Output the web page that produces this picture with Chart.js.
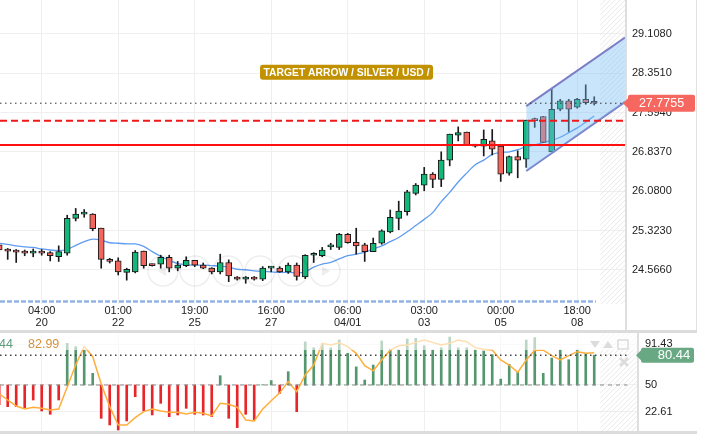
<!DOCTYPE html>
<html>
<head>
<meta charset="utf-8">
<script src="https://cdn.jsdelivr.net/npm/chart.js@4.4.1/dist/chart.umd.min.js"></script>
<style>
  html, body { margin: 0; padding: 0; background: #fff; }
  body { width: 716px; height: 437px; position: relative; overflow: hidden; }
  canvas { position: absolute; left: 0; }
  #main { top: 0; }
  #osc { top: 333px; }
  .band { position: absolute; left: 0; width: 697px; height: 3px; background: #dcdcdc; }
  .vline { position: absolute; left: 696px; top: 0; width: 1px; height: 330px; background: #e2e2e2; }
</style>
</head>
<body>
<canvas id="main" width="716" height="330"></canvas>
<div class="band" style="top:330px"></div>
<canvas id="osc" width="716" height="98"></canvas>
<div class="band" style="top:431px"></div>
<div class="vline"></div>
<script>
// axis labels
const timeLabels = ['04:00', '01:00', '19:00', '16:00', '06:00', '03:00', '00:00', '18:00'];
const dateLabels = ['20', '22', '25', '27', '04/01', '03', '05', '08'];
const timeTickIdx = [5, 14, 23, 32, 41, 50, 59, 68];
const priceTicks = [24.566, 25.323, 26.080, 26.837, 27.594, 28.351, 29.108];
const oscTicks = [22.61, 50, 91.43];

// candles (silver / usd)
const opens = [25.05, 24.94, 24.92, 24.91, 24.89, 24.93, 24.90, 24.82, 24.89, 25.56,
  25.64, 25.64, 25.37, 24.77, 24.74, 24.52, 24.53, 24.93, 24.66, 24.68,
  24.81, 24.60, 24.65, 24.75, 24.66, 24.60, 24.53, 24.71, 24.43, 24.39,
  24.43, 24.39, 24.60, 24.60, 24.53, 24.66, 24.43, 24.85, 24.84, 25.01,
  25.00, 25.25, 25.10, 25.05, 24.92, 25.08, 25.30, 25.56, 25.69, 26.04,
  26.20, 26.41, 26.31, 26.68, 27.16, 27.22, 26.96, 26.95, 27.05, 26.95,
  26.43, 26.75, 26.70, 27.46, 27.52, 26.84, 27.66, 27.82, 27.70, 27.85, 27.78];
const highs = [25.09, 24.98, 24.96, 24.95, 24.97, 24.96, 24.92, 25.03, 25.62, 25.75,
  25.73, 25.65, 25.37, 24.79, 24.80, 24.60, 24.94, 24.93, 24.68, 24.85,
  24.85, 24.73, 24.82, 24.75, 24.70, 24.61, 24.87, 24.76, 24.44, 24.44,
  24.44, 24.63, 24.63, 24.63, 24.70, 24.70, 24.86, 24.90, 25.00, 25.08,
  25.27, 25.27, 25.37, 25.08, 25.18, 25.34, 25.72, 25.89, 26.10, 26.23,
  26.54, 26.44, 26.84, 27.18, 27.32, 27.22, 26.97, 27.26, 27.27, 26.95,
  26.76, 26.86, 27.45, 27.49, 27.52, 28.05, 27.85, 27.85, 27.87, 28.13, 27.90];
const lows = [24.91, 24.77, 24.71, 24.84, 24.82, 24.85, 24.74, 24.73, 24.85, 25.51,
  25.58, 25.32, 24.60, 24.70, 24.47, 24.37, 24.51, 24.60, 24.64, 24.60,
  24.53, 24.55, 24.63, 24.63, 24.59, 24.49, 24.49, 24.34, 24.37, 24.31,
  24.37, 24.36, 24.53, 24.52, 24.50, 24.37, 24.40, 24.71, 24.82, 24.96,
  24.96, 25.08, 24.87, 24.73, 24.92, 25.06, 25.28, 25.34, 25.62, 26.01,
  26.09, 26.15, 26.17, 26.57, 27.05, 26.96, 26.93, 26.76, 26.78, 26.27,
  26.39, 26.34, 26.54, 27.31, 27.02, 26.84, 27.63, 27.23, 27.68, 27.755, 27.74];
const closes = [24.95, 24.93, 24.91, 24.89, 24.93, 24.89, 24.84, 24.92, 25.56, 25.64,
  25.65, 25.36, 24.77, 24.73, 24.53, 24.58, 24.91, 24.65, 24.65, 24.81,
  24.60, 24.66, 24.75, 24.66, 24.60, 24.53, 24.71, 24.45, 24.39, 24.43,
  24.39, 24.60, 24.61, 24.53, 24.66, 24.44, 24.85, 24.86, 24.95, 25.02,
  25.25, 25.09, 25.03, 24.92, 25.08, 25.32, 25.58, 25.70, 26.07, 26.20,
  26.41, 26.31, 26.68, 27.18, 27.21, 26.96, 26.95, 27.08, 26.89, 26.41,
  26.75, 26.68, 27.45, 27.44, 27.02, 27.66, 27.82, 27.66, 27.85, 27.785, 27.7755];
const maLine = [25.08, 25.06, 25.03, 25.01, 25.00, 24.97, 24.95, 24.94, 24.96, 25.04,
  25.11, 25.16, 25.14, 25.09, 25.08, 25.07, 25.07, 25.02, 24.92, 24.83,
  24.75, 24.69, 24.67, 24.66, 24.66, 24.65, 24.64, 24.62, 24.58, 24.57,
  24.55, 24.54, 24.53, 24.52, 24.52, 24.51, 24.53, 24.62, 24.68, 24.71,
  24.78, 24.84, 24.87, 24.91, 24.97, 25.03, 25.11, 25.19, 25.30, 25.42,
  25.54, 25.67, 25.88, 26.06, 26.26, 26.43, 26.59, 26.68, 26.79, 26.83,
  26.84, 26.88, 26.94, 26.97, 27.02, 27.06, 27.12, 27.21, 27.30, 27.41, 27.53];

// oscillator panel
const oscBars = [30, 27.9, 27.9, 26.9, 34.7, 23.5, 20.1, 34.7, 92.5, 89.1,
  85.7, 61.9, 16.0, 9.2, 4.1, 13.3, 38.1, 23.5, 19.4, 31.3,
  17.7, 19.4, 26.2, 20.1, 19.4, 17.7, 59.5, 16.0, 6.5, 20.1,
  14.3, 50.3, 54.5, 41.5, 63.6, 22.8, 94, 88, 92, 88,
  96, 82.3, 68.5, 55.1, 70.4, 95, 86.5, 85.7, 97, 97.6,
  90, 85.7, 88, 99, 88, 88, 85.7, 84.7, 81, 56,
  71.1, 62.9, 95.9, 98.3, 61.9, 77.5, 85.7, 75.8, 85.7, 82.3, 80.44];
const oscLine = [41, 34.7, 28.6, 25.5, 27.2, 26.2, 24.5, 25.5, 48, 70.4,
  89.5, 78.9, 51, 27.9, 9.2, 9.2, 16.7, 22.8, 25.5, 23.5,
  22.1, 22.1, 20.4, 22.1, 21.1, 18.4, 31.3, 30.3, 27.2, 14.3,
  13.3, 25.5, 34, 42, 53.4, 43.2, 60.2, 70.4, 92.5, 90.8,
  93, 89.1, 82.3, 69.7, 64.5, 75.5, 85.7, 90, 90.8, 93.5,
  95.9, 93.5, 90.8, 92.5, 95.9, 94.2, 88.1, 86.5, 85.7, 75.5,
  70.4, 62.9, 75.5, 85.5, 85.5, 79.9, 75.5, 79.9, 84, 82.3, 82.99];

// drawn levels
const lastPrice = 27.7755;
const lastOsc = 80.44;
const redSolid = 26.97;
const redDashed = 27.44;
const blueDashed = 23.96;
const channelStart = 62;
const channelTop = [27.72, 29.04];
const channelBottom = [26.47, 27.80];
const targetNote = { text: 'TARGET ARROW / SILVER / USD /', x: 40.86, y: 28.37 };

const xMin = 0.094, xMainMax = 73.62, xOscMax = 75.03, xLinesEnd = 70.2;
const idx = opens.map((_, i) => i);

Chart.defaults.font.family = '"Liberation Sans", Arial, sans-serif';
Chart.defaults.color = '#222';

// drop the label half-height padding chart.js puts round each axis
function noPad(s) {
  s.paddingTop = 0;
  s.paddingBottom = 0;
  s.paddingLeft = 0;
  s.paddingRight = 0;
}

function hatch(ctx, x0, x1, y0, y1) {
  ctx.save();
  ctx.beginPath();
  ctx.rect(x0, y0, x1 - x0, y1 - y0);
  ctx.clip();
  ctx.strokeStyle = '#e9e9e9';
  ctx.lineWidth = 1;
  const h = y1 - y0;
  for (let s = x0 - h; s < x1 + 5; s += 5) {
    ctx.beginPath();
    ctx.moveTo(s, y1);
    ctx.lineTo(s + h, y0);
    ctx.stroke();
  }
  ctx.restore();
}

function hline(y, x1, color, width, dash) {
  return {
    type: 'line', data: [{ x: xMin, y: y }, { x: x1, y: y }],
    borderColor: color, borderWidth: width, borderDash: dash || [],
    pointRadius: 0, order: 0
  };
}

function badge(ctx, x0, x1, y, h, color, text, tx, font) {
  ctx.save();
  ctx.fillStyle = color;
  ctx.beginPath();
  ctx.moveTo(x0 - 5, y);
  ctx.lineTo(x0, y - 5);
  ctx.lineTo(x0, y + 5);
  ctx.closePath();
  ctx.fill();
  ctx.beginPath();
  ctx.roundRect(x0, y - h / 2, x1 - x0, h, 2);
  ctx.fill();
  ctx.fillStyle = '#fff';
  ctx.font = font;
  ctx.textAlign = 'center';
  ctx.textBaseline = 'middle';
  ctx.fillText(text, tx, y + 0.5);
  ctx.restore();
}

const mainDecor = {
  id: 'mainDecor',
  beforeDatasetsDraw(chart) {
    const { ctx, chartArea, scales } = chart;
    hatch(ctx, scales.x.getPixelForValue(opens.length - 0.3), chartArea.right, chartArea.top, chartArea.bottom);
  },
  afterDatasetsDraw(chart) {
    const { ctx } = chart;
    ctx.save();
    ctx.strokeStyle = 'rgba(0,0,0,0.07)';
    ctx.lineWidth = 1.5;
    [163, 195, 228, 260, 293, 325].forEach(cx => {
      ctx.beginPath();
      ctx.arc(cx, 271, 15, 0, Math.PI * 2);
      ctx.stroke();
    });
    ctx.fillStyle = 'rgba(0,0,0,0.07)';
    ctx.beginPath(); ctx.moveTo(158, 271); ctx.lineTo(166, 266); ctx.lineTo(166, 276); ctx.fill();
    ctx.beginPath(); ctx.moveTo(330, 271); ctx.lineTo(322, 266); ctx.lineTo(322, 276); ctx.fill();
    ctx.restore();
  },
  afterDraw(chart) {
    const { ctx, chartArea, scales } = chart;
    ctx.save();
    ctx.fillStyle = '#dedede';
    ctx.fillRect(chartArea.right, 0, 2, chart.height);
    // target note
    const cx = scales.x.getPixelForValue(targetNote.x);
    const cy = scales.y.getPixelForValue(targetNote.y);
    ctx.fillStyle = '#c29100';
    ctx.beginPath();
    ctx.roundRect(cx - 86.5, cy - 7.5, 173, 15, 3);
    ctx.fill();
    ctx.fillStyle = '#fff';
    ctx.font = 'bold 11px "Liberation Sans", Arial, sans-serif';
    ctx.textAlign = 'center';
    ctx.textBaseline = 'middle';
    ctx.fillText(targetNote.text, cx, cy + 0.5, 166);
    ctx.restore();
    badge(ctx, 628, 695, scales.y.getPixelForValue(lastPrice), 17, '#f6675f',
      lastPrice.toFixed(4), 661.5, '12.5px "Liberation Sans", Arial, sans-serif');
  }
};

new Chart(document.getElementById('main'), {
  type: 'bar',
  data: {
    datasets: [
      hline(redSolid, xMainMax, '#ff1010', 2),
      hline(redDashed, xMainMax, '#f01818', 2, [7, 4]),
      hline(lastPrice, xMainMax, '#333', 1, [1.5, 3.5]),
      hline(blueDashed, xLinesEnd, '#94b4e6', 2.5, [5, 2]),
      {
        type: 'line',
        data: [{ x: channelStart, y: channelTop[0] }, { x: xMainMax, y: channelTop[1] }],
        borderColor: '#7c7ec6', borderWidth: 2, pointRadius: 0,
        fill: '+1', backgroundColor: 'rgba(120,190,245,0.4)', order: 1
      },
      {
        type: 'line',
        data: [{ x: channelStart, y: channelBottom[0] }, { x: xMainMax, y: channelBottom[1] }],
        borderColor: '#7c7ec6', borderWidth: 2, pointRadius: 0, fill: false, order: 1
      },
      {
        type: 'line',
        data: idx.map(i => ({ x: i, y: maLine[i] })),
        borderColor: '#5e9cf2', borderWidth: 1.3, pointRadius: 0,
        tension: 0.4, cubicInterpolationMode: 'monotone', fill: false, order: 6
      },
      {
        data: idx.map(i => ({ x: i, y: [lows[i], highs[i]] })),
        backgroundColor: '#1a1a1a', barThickness: 1, grouped: false, order: 5
      },
      {
        data: idx.map(i => ({ x: i, y: [opens[i], closes[i]] })),
        backgroundColor: idx.map(i => closes[i] >= opens[i] ? '#13b779' : '#f2665e'),
        borderColor: '#1a1a1a', borderWidth: 1, borderSkipped: false,
        barThickness: 6, minBarLength: 2, grouped: false, order: 4
      }
    ]
  },
  options: {
    responsive: false,
    devicePixelRatio: 1,
    animation: false,
    events: [],
    layout: { padding: 0 },
    plugins: { legend: { display: false }, tooltip: { enabled: false } },
    scales: {
      x: {
        type: 'linear', min: xMin, max: xMainMax, offset: false,
        afterBuildTicks: s => { s.ticks = timeTickIdx.map(v => ({ value: v })); },
        afterFit: s => { s.height = 26; noPad(s); },
        ticks: {
          autoSkip: false, maxRotation: 0, padding: 1, color: '#222',
          font: { size: 11, lineHeight: 1.1 },
          callback: (v, i) => [timeLabels[i], dateLabels[i]]
        },
        grid: { color: '#efefef', drawTicks: false, offset: false },
        border: { display: false }
      },
      y: {
        position: 'right', min: 23.911, max: 29.762, beginAtZero: false,
        afterBuildTicks: s => { s.ticks = priceTicks.map(v => ({ value: v })); },
        afterFit: s => { s.width = 91; noPad(s); },
        ticks: { padding: 7, color: '#222', font: { size: 11 }, callback: v => v.toFixed(4) },
        grid: { color: '#efefef', drawTicks: false },
        border: { display: false }
      }
    }
  },
  plugins: [mainDecor]
});

const oscDecor = {
  id: 'oscDecor',
  beforeDatasetsDraw(chart) {
    const { ctx, chartArea, scales } = chart;
    hatch(ctx, scales.x.getPixelForValue(opens.length - 0.3), chartArea.right, chartArea.top, chartArea.bottom);
  },
  afterDatasetsDraw(chart) {
    const { ctx, chartArea } = chart;
    ctx.save();
    ctx.fillStyle = 'rgba(255,255,255,0.6)';
    ctx.fillRect(chartArea.left, chartArea.top, chartArea.right - chartArea.left, 17);
    ctx.font = '12.5px "Liberation Sans", Arial, sans-serif';
    ctx.textBaseline = 'middle';
    ctx.textAlign = 'right';
    ctx.fillStyle = '#5f9c7b';
    ctx.fillText(lastOsc.toFixed(2), 13, 11.5);
    ctx.textAlign = 'left';
    ctx.fillStyle = '#d4923a';
    ctx.fillText(oscLine[oscLine.length - 1].toFixed(2), 28, 11.5);
    // panel icons
    ctx.fillStyle = '#dcdcdc';
    ctx.strokeStyle = '#dcdcdc';
    ctx.beginPath(); ctx.moveTo(590, 8); ctx.lineTo(600, 8); ctx.lineTo(595, 15); ctx.fill();
    ctx.beginPath(); ctx.moveTo(603, 15); ctx.lineTo(613, 15); ctx.lineTo(608, 8); ctx.fill();
    ctx.lineWidth = 1.5;
    ctx.strokeRect(618, 7, 10, 9);
    ctx.lineWidth = 2.5;
    ctx.beginPath();
    ctx.moveTo(620, 25); ctx.lineTo(628, 33);
    ctx.moveTo(628, 25); ctx.lineTo(620, 33);
    ctx.stroke();
    ctx.restore();
  },
  afterDraw(chart) {
    const { ctx, chartArea, scales } = chart;
    ctx.save();
    ctx.fillStyle = '#dedede';
    ctx.fillRect(chartArea.right, 0, 2, chart.height);
    ctx.restore();
    badge(ctx, 641, 694, scales.y.getPixelForValue(lastOsc), 15, '#68a883',
      lastOsc.toFixed(2), 674, '13px "Liberation Sans", Arial, sans-serif');
  }
};

new Chart(document.getElementById('osc'), {
  type: 'bar',
  data: {
    datasets: [
      hline(50, 73.9, '#8a8a8a', 1, [4, 4]),
      hline(lastOsc, 73.9, '#444', 1.5, [1.5, 3.5]),
      {
        type: 'line',
        data: idx.map(i => ({ x: i, y: oscLine[i] })),
        borderColor: '#ffad3b', borderWidth: 1.5, pointRadius: 0, fill: false, order: 1
      },
      {
        data: idx.map(i => ({ x: i, y: [50, oscBars[i]] })),
        backgroundColor: oscBars.map(v => v >= 50 ? '#55986f' : '#e8262a'),
        barThickness: 2, grouped: false, order: 2
      }
    ]
  },
  options: {
    responsive: false,
    devicePixelRatio: 1,
    animation: false,
    events: [],
    layout: { padding: 0 },
    plugins: { legend: { display: false }, tooltip: { enabled: false } },
    scales: {
      x: {
        type: 'linear', min: xMin, max: xOscMax, offset: false,
        afterBuildTicks: s => { s.ticks = timeTickIdx.map(v => ({ value: v })); },
        afterFit: s => { s.height = 0; noPad(s); },
        ticks: { display: false },
        grid: { color: '#f0f0f0', drawTicks: false, offset: false },
        border: { display: false }
      },
      y: {
        position: 'right', min: 3.06, max: 103.06, beginAtZero: false,
        afterBuildTicks: s => { s.ticks = oscTicks.map(v => ({ value: v })); },
        afterFit: s => { s.width = 79; noPad(s); },
        ticks: { padding: 8, color: '#222', font: { size: 11 }, callback: v => v === 50 ? '50' : v.toFixed(2) },
        grid: { color: '#f0f0f0', drawTicks: false },
        border: { display: false }
      }
    }
  },
  plugins: [oscDecor]
});
</script>
</body>
</html>
